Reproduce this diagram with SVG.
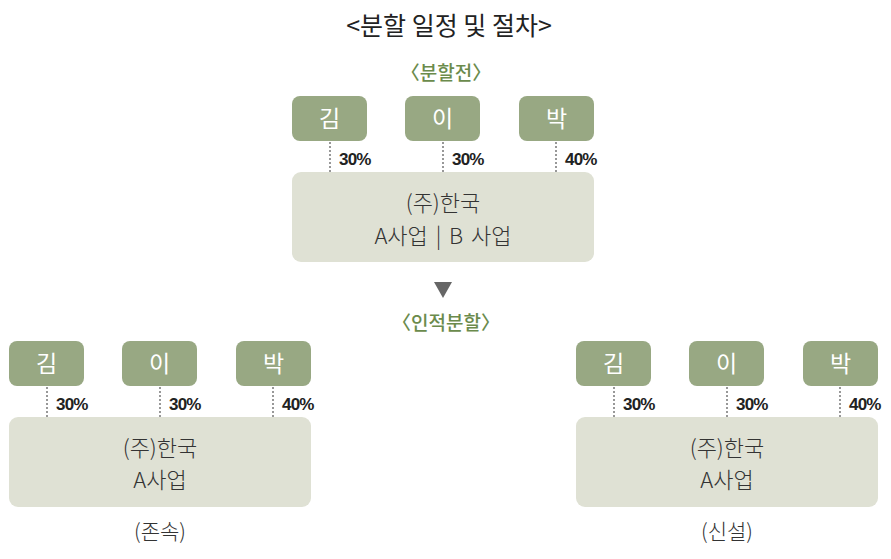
<svg xmlns="http://www.w3.org/2000/svg" width="891" height="559" viewBox="0 0 891 559">
<style>
text{font-family:"Noto Sans CJK KR","Noto Sans",sans-serif}
.title{font-size:25px;fill:#222;text-anchor:middle}
.sec{font-size:19px;font-weight:500;fill:#6b8b4c;text-anchor:middle}
.p{fill:#98a883}
.pt{font-size:23px;fill:#fff;text-anchor:middle}
.co{fill:#dfe1d4}
.ct{font-size:22px;fill:#333;text-anchor:middle;font-weight:300}
.pct{font-family:"Liberation Sans Narrow","Liberation Sans",sans-serif;font-size:17px;font-weight:bold;fill:#222;letter-spacing:-0.8px}
.dot{stroke:#777;stroke-width:1.5;stroke-dasharray:2 2;fill:none}
.cap{font-size:21px;fill:#333;text-anchor:middle;font-weight:300}
</style>
<text class="title" x="449" y="35">&lt;분할 일정 및 절차&gt;</text>
<text class="sec" x="446" y="80">〈분할전〉</text>
<g id="connectors">
<line class="dot" x1="330" y1="142" x2="330" y2="172"/>
<line class="dot" x1="443" y1="142" x2="443" y2="172"/>
<line class="dot" x1="556" y1="142" x2="556" y2="172"/>
<line class="dot" x1="47" y1="387" x2="47" y2="417"/>
<line class="dot" x1="160" y1="387" x2="160" y2="417"/>
<line class="dot" x1="273" y1="387" x2="273" y2="417"/>
<line class="dot" x1="614" y1="387" x2="614" y2="417"/>
<line class="dot" x1="727" y1="387" x2="727" y2="417"/>
<line class="dot" x1="840" y1="387" x2="840" y2="417"/>
<polygon points="434,282 452,282 443,298" fill="#666"/>
</g>
<g id="pct-labels">
<text class="pct" x="339" y="165">30%</text>
<text class="pct" x="452" y="165">30%</text>
<text class="pct" x="565" y="165">40%</text>
<text class="pct" x="56" y="410">30%</text>
<text class="pct" x="169" y="410">30%</text>
<text class="pct" x="282" y="410">40%</text>
<text class="pct" x="623" y="410">30%</text>
<text class="pct" x="736" y="410">30%</text>
<text class="pct" x="849" y="410">40%</text>
</g>
<g id="top-kim"><rect class="p" x="292" y="96" width="75" height="45" rx="8"/><text class="pt" x="329.5" y="127">김</text></g>
<g id="top-lee"><rect class="p" x="405" y="96" width="75" height="45" rx="8"/><text class="pt" x="442.5" y="127">이</text></g>
<g id="top-park"><rect class="p" x="519" y="96" width="75" height="45" rx="8"/><text class="pt" x="556.5" y="127">박</text></g>
<g id="top-company"><rect class="co" x="292" y="172" width="302" height="90" rx="9"/><text class="ct" x="443" y="211">(주)한국</text><text class="ct" x="443" y="244" word-spacing="3">A사업 | B 사업</text></g>
<text class="sec" x="446" y="330">〈인적분할〉</text>
<g id="l-kim"><rect class="p" x="9" y="341" width="75" height="45" rx="8"/><text class="pt" x="46.5" y="372">김</text></g>
<g id="l-lee"><rect class="p" x="122" y="341" width="75" height="45" rx="8"/><text class="pt" x="159.5" y="372">이</text></g>
<g id="l-park"><rect class="p" x="236" y="341" width="75" height="45" rx="8"/><text class="pt" x="273.5" y="372">박</text></g>
<g id="l-company"><rect class="co" x="9" y="417" width="302" height="90" rx="9"/><text class="ct" x="160" y="456">(주)한국</text><text class="ct" x="160" y="488">A사업</text></g>
<text class="cap" x="160" y="539">(존속)</text>
<g id="r-kim"><rect class="p" x="576" y="341" width="75" height="45" rx="8"/><text class="pt" x="613.5" y="372">김</text></g>
<g id="r-lee"><rect class="p" x="689" y="341" width="75" height="45" rx="8"/><text class="pt" x="726.5" y="372">이</text></g>
<g id="r-park"><rect class="p" x="803" y="341" width="75" height="45" rx="8"/><text class="pt" x="840.5" y="372">박</text></g>
<g id="r-company"><rect class="co" x="576" y="417" width="302" height="90" rx="9"/><text class="ct" x="727" y="456">(주)한국</text><text class="ct" x="727" y="488">A사업</text></g>
<text class="cap" x="727" y="539">(신설)</text>
</svg>
